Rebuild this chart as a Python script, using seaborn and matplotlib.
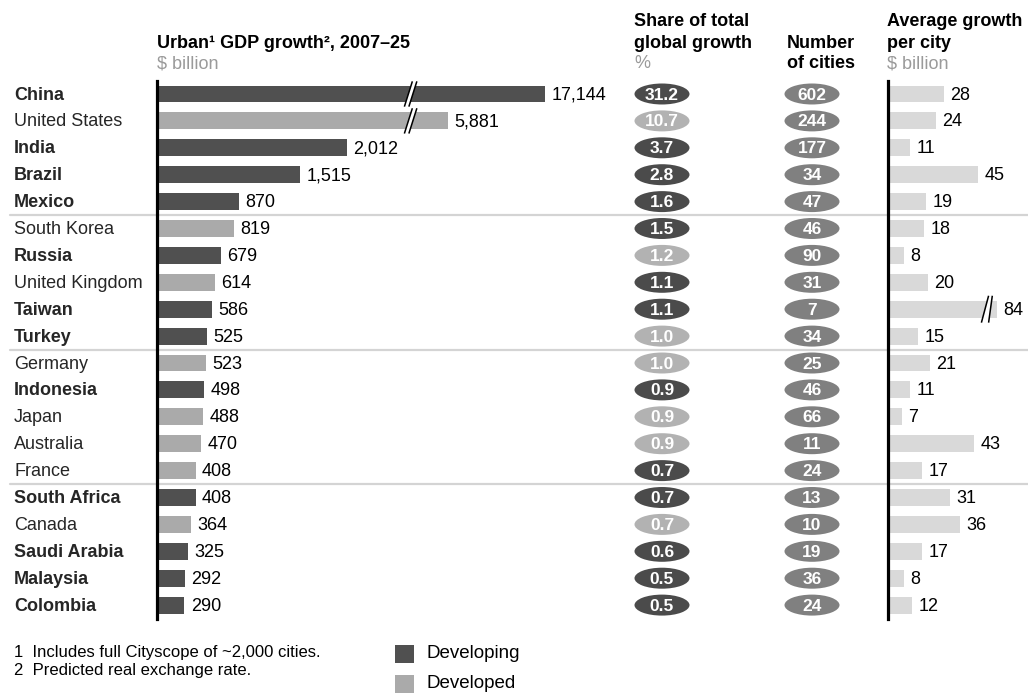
import numpy as np
import pandas as pd
import matplotlib
matplotlib.use("Agg")
import matplotlib.pyplot as plt
import seaborn as sns
from matplotlib.patches import Ellipse, Rectangle, Polygon
from matplotlib.lines import Line2D
from matplotlib.transforms import blended_transform_factory

# ---------------------------------------------------------------- data
countries = ["China", "United States", "India", "Brazil", "Mexico",
             "South Korea", "Russia", "United Kingdom", "Taiwan", "Turkey",
             "Germany", "Indonesia", "Japan", "Australia", "France",
             "South Africa", "Canada", "Saudi Arabia", "Malaysia", "Colombia"]
status = ["Developing", "Developed", "Developing", "Developing", "Developing",
          "Developed", "Developing", "Developed", "Developing", "Developing",
          "Developed", "Developing", "Developed", "Developed", "Developed",
          "Developing", "Developed", "Developing", "Developing", "Developing"]
gdp_growth = [17144, 5881, 2012, 1515, 870, 819, 679, 614, 586, 525,
              523, 498, 488, 470, 408, 408, 364, 325, 292, 290]
share_pct = [31.2, 10.7, 3.7, 2.8, 1.6, 1.5, 1.2, 1.1, 1.1, 1.0,
             1.0, 0.9, 0.9, 0.9, 0.7, 0.7, 0.7, 0.6, 0.5, 0.5]
share_shade = ["dark", "light", "dark", "dark", "dark", "dark", "light", "dark",
               "dark", "light", "light", "dark", "light", "light", "dark", "dark",
               "light", "dark", "dark", "dark"]
num_cities = [602, 244, 177, 34, 47, 46, 90, 31, 7, 34,
              25, 46, 66, 11, 24, 13, 10, 19, 36, 24]
avg_growth = [28, 24, 11, 45, 19, 18, 8, 20, 84, 15,
              21, 11, 7, 43, 17, 31, 36, 17, 8, 12]
footnotes = ["1  Includes full Cityscope of ~2,000 cities.",
             "2  Predicted real exchange rate."]

df = pd.DataFrame({"country": countries, "status": status, "gdp": gdp_growth,
                   "avg": avg_growth})

# ---------------------------------------------------------------- style
sns.set_theme(style="white")
plt.rcParams["font.family"] = ["Liberation Sans", "DejaVu Sans"]
FS = 13
DARK, LIGHT = "#505050", "#aaaaaa"
palette = {"Developing": DARK, "Developed": LIGHT}
shade = {"dark": "#4b4b4b", "light": "#b2b2b2"}

W, H = 1028, 694
fig = plt.figure(figsize=(W / 100, H / 100), dpi=100)


def fx(x):
    return x / W


def fy(y):
    return 1 - y / H


ROW0, STEP = 94.0, 26.9
top_px = ROW0 - STEP / 2
bot_px = ROW0 + STEP * 19.5
n = len(countries)
TXT_DY = 0.04  # small downward nudge so text sits on the row centre


def make_axes(x0, x1):
    ax = fig.add_axes([fx(x0), fy(bot_px), (x1 - x0) / W, (bot_px - top_px) / H])
    ax.patch.set_visible(False)
    return ax


def broken_scale(b, k):
    def fwd(x):
        x = np.asarray(x, float)
        return np.where(x <= b, x, b + (x - b) * k)

    def inv(y):
        y = np.asarray(y, float)
        return np.where(y <= b, y, b + (y - b) / k)
    return fwd, inv


def style_axis(ax):
    for s in ["top", "right", "bottom"]:
        ax.spines[s].set_visible(False)
    ax.spines["left"].set_color("black")
    ax.spines["left"].set_linewidth(2.3)
    ax.set_xticks([])
    ax.set_yticks([])
    ax.set_xlabel("")
    ax.set_ylabel("")
    ax.set_ylim(n - 0.5, -0.5)


def break_mark(ax, x, row, dx, gap, h=0.47):
    # white band with two slanted strokes
    band = Polygon([(x - dx, row + h), (x - dx + gap, row + h),
                    (x + dx + gap, row - h), (x + dx, row - h)],
                   closed=True, facecolor="white", edgecolor="none", zorder=4)
    ax.add_patch(band)
    for off in (0, gap):
        ax.plot([x - dx + off, x + dx + off], [row + h, row - h],
                color="black", lw=1.1, zorder=5, solid_capstyle="butt")


# ---------------------------------------------------------------- GDP growth panel
PX_PER = 0.0945
ax1 = make_axes(157, 620)
sns.barplot(data=df, x="gdp", y="country", hue="status", palette=palette,
            dodge=False, orient="h", width=0.63, linewidth=0, legend=False,
            saturation=1, ax=ax1)
f1, i1 = broken_scale(2800, 0.091)
ax1.set_xscale("function", functions=(f1, i1))
ax1.set_xlim(0, float(i1((620 - 157) / PX_PER)))
style_axis(ax1)
for i, v in enumerate(gdp_growth):
    ax1.annotate(f"{v:,}", (v, i + TXT_DY), xytext=(4.5, 0),
                 textcoords="offset points", va="center", ha="left",
                 fontsize=FS, color="black")
for i in (0, 1):
    break_mark(ax1, 2660, i, 4 / PX_PER, 4.5 / PX_PER)

# ---------------------------------------------------------------- share / city ellipses
ax2 = make_axes(620, 880)
ax2.set_xlim(620, 880)
ax2.set_ylim(n - 0.5, -0.5)
ax2.axis("off")
for i in range(n):
    ax2.add_patch(Ellipse((662, i), 55, 0.78, facecolor=shade[share_shade[i]],
                          edgecolor="none"))
    ax2.text(662, i + TXT_DY, f"{share_pct[i]:.1f}", ha="center", va="center",
             color="white", fontsize=12.5, fontweight="bold")
    ax2.add_patch(Ellipse((812, i), 55, 0.78, facecolor="#808080",
                          edgecolor="none"))
    ax2.text(812, i + TXT_DY, f"{num_cities[i]}", ha="center", va="center",
             color="white", fontsize=12.5, fontweight="bold")

# ---------------------------------------------------------------- average growth panel
ax3 = make_axes(888, 1028)
sns.barplot(data=df, x="avg", y="country", color="#d9d9d9", orient="h",
            width=0.63, linewidth=0, saturation=1, ax=ax3)
f3, i3 = broken_scale(52, 0.08)
ax3.set_xscale("function", functions=(f3, i3))
ax3.set_xlim(0, float(i3((1028 - 888) / 2.0)))
style_axis(ax3)
for i, v in enumerate(avg_growth):
    ax3.annotate(f"{v}", (v, i + TXT_DY), xytext=(4.5, 0),
                 textcoords="offset points", va="center", ha="left",
                 fontsize=FS, color="black")
break_mark(ax3, 48.5, avg_growth.index(84), 1.8, 3.6, h=0.5)

# ---------------------------------------------------------------- country names
lab_tr = blended_transform_factory(fig.transFigure, ax1.transData)
for i, (c, s) in enumerate(zip(countries, status)):
    fig.text(fx(14), i + TXT_DY, c, transform=lab_tr, ha="left", va="center",
             fontsize=FS, fontweight="bold" if s == "Developing" else "normal")

# group separators
for r in (4.5, 9.5, 14.5):
    fig.add_artist(Line2D([fx(10), 1.0], [r, r], transform=lab_tr,
                          color="#d4d4d4", lw=1.6, zorder=-1))

# ---------------------------------------------------------------- headers
def head(x, y, s, bold=True, color="black", size=FS):
    fig.text(fx(x), fy(y), s, ha="left", va="center", fontsize=size,
             fontweight="bold" if bold else "normal", color=color)


GRAY = "#9a9a9a"
head(157, 43, "Urban¹ GDP growth², 2007–25")
head(157, 64, "$ billion", bold=False, color=GRAY)
head(634, 21, "Share of total")
head(634, 43, "global growth")
head(634, 64, "%", bold=False, color=GRAY)
head(787, 43, "Number")
head(787, 64, "of cities")
head(887, 21, "Average growth")
head(887, 43, "per city")
head(887, 64, "$ billion", bold=False, color=GRAY)

# ---------------------------------------------------------------- footnotes & legend
head(14, 652, footnotes[0], bold=False, size=12)
head(14, 671, footnotes[1], bold=False, size=12)
for y, lab, col in ((654, "Developing", DARK), (684, "Developed", LIGHT)):
    fig.add_artist(Rectangle((fx(395), fy(y + 9)), 19 / W, 18 / H,
                             transform=fig.transFigure, facecolor=col,
                             edgecolor="none"))
    head(426, y, lab, bold=False, size=13.5)

fig.savefig("out.png", dpi=100)
